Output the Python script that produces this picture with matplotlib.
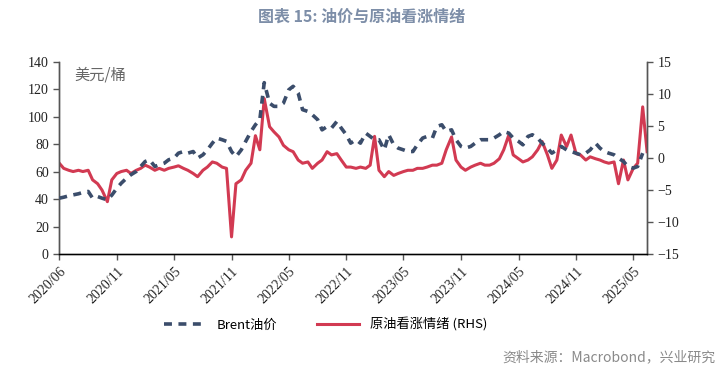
import numpy as np
import pandas as pd
import matplotlib
matplotlib.use("Agg")
import matplotlib.pyplot as plt

# data (semi-monthly readings)
dates = pd.date_range("2020-06-01", periods=124, freq="SMS")

brent = [40.8, 41.5, 42.5, 43.2, 44.0, 45.0, 45.7, 40.8, 42.0, 40.8,
         39.6, 43.0, 48.0, 51.7, 55.4, 57.9, 60.3, 63.9, 67.5, 68.8,
         63.9, 65.1, 66.3, 68.8, 70.0, 73.6, 74.8, 73.6, 74.8, 70.0,
         72.4, 76.0, 80.9, 84.6, 83.4, 82.2, 74.8, 71.0, 76.0, 82.2,
         89.4, 94.3, 98.0, 125.0, 110.0, 107.7, 107.7, 110.0, 119.8, 122.3,
         117.4, 105.3, 104.0, 101.6, 98.0, 90.6, 93.0, 91.9, 96.7, 91.9,
         87.0, 80.9, 83.4, 80.9, 88.2, 85.8, 83.4, 83.4, 76.0, 87.0,
         79.7, 77.3, 76.0, 74.8, 74.8, 79.7, 84.6, 85.8, 84.6, 93.0,
         94.3, 89.4, 90.6, 83.4, 78.5, 77.3, 78.5, 80.9, 83.4, 83.4,
         83.4, 84.6, 87.0, 89.4, 88.2, 84.6, 82.2, 79.7, 85.8, 87.0,
         84.6, 80.9, 77.3, 73.6, 76.0, 78.5, 76.0, 74.8, 73.6, 72.4,
         73.6, 76.0, 80.9, 77.3, 74.8, 73.6, 72.4, 70.0, 67.5, 63.9,
         62.7, 63.9, 73.6, np.nan]

sentiment = [-0.8, -1.6, -1.9, -2.1, -1.9, -2.1, -1.9, -3.4, -4.0, -5.0,
             -6.8, -3.4, -2.4, -2.1, -1.9, -2.4, -1.9, -1.6, -1.1, -1.4,
             -1.9, -1.6, -1.9, -1.6, -1.4, -1.2, -1.6, -1.9, -2.4, -2.9,
             -1.9, -1.4, -0.6, -0.8, -1.4, -1.6, -12.3, -4.0, -3.4, -1.9,
             -0.8, 3.5, 1.3, 9.3, 4.9, 4.1, 3.3, 2.0, 1.3, 1.0,
             -0.3, -0.8, -0.6, -1.6, -0.8, -0.3, 1.0, 0.5, 0.7, -0.3,
             -1.4, -1.4, -1.6, -1.4, -1.6, -1.1, 3.4, -1.9, -2.9, -2.1,
             -2.7, -2.4, -2.1, -1.9, -1.9, -1.6, -1.6, -1.4, -1.1, -1.1,
             -0.8, 1.3, 3.3, -0.3, -1.4, -1.9, -1.4, -1.1, -0.8, -1.1,
             -1.1, -0.8, -0.1, 1.3, 3.6, 0.5, -0.1, -0.6, -0.3, 0.2,
             1.3, 2.6, 0.5, -1.6, -0.3, 3.6, 1.8, 3.6, 0.7, 0.5,
             -0.3, 0.2, -0.1, -0.3, -0.6, -0.8, -0.6, -4.0, -0.3, -3.4,
             -1.6, -0.8, 8.0, 1.0]

tick_dates = pd.date_range("2020-06-01", periods=11, freq="6MS")
tick_labels = ["2020/06", "2020/11", "2021/05", "2021/11", "2022/05", "2022/11",
               "2023/05", "2023/11", "2024/05", "2024/11", "2025/05"]

navy = "#3b4d6b"
red = "#d23a52"
serif = "Liberation Serif"
cjk = ["Noto Sans CJK SC", "DejaVu Sans"]

fig = plt.figure(figsize=(7.23, 3.76), dpi=100)
ax = fig.add_axes([0.082, 0.324, 0.813, 0.511])
ax2 = ax.twinx()

ax.plot(dates, brent, color=navy, lw=2.6, dashes=(2.2, 1.8), label="Brent油价", zorder=3)
ax2.plot(dates, sentiment, color=red, lw=2.2, label="原油看涨情绪 (RHS)", zorder=2)
ax.set_zorder(ax2.get_zorder() + 1)
ax.patch.set_visible(False)

ax.set_ylim(0, 140)
ax.set_yticks(range(0, 141, 20))
ax2.set_ylim(-15, 15)
ax2.set_yticks(range(-15, 16, 5))
ax.set_xlim(dates[0], dates[-1])
ax.set_xticks(tick_dates)
ax.set_xticklabels(tick_labels, rotation=45, ha="right", rotation_mode="anchor")

for a in (ax, ax2):
    a.spines["top"].set_visible(False)
    for s in ("left", "right", "bottom"):
        a.spines[s].set_color("#555555")
        a.spines[s].set_linewidth(1.0)
    a.tick_params(direction="out", length=4, width=1, color="#555555",
                  labelsize=10, labelcolor="#222222")
    for lab in a.get_yticklabels() + a.get_xticklabels():
        lab.set_fontfamily(serif)
ax.spines["bottom"].set_color("black")

ax.text(0.025, 0.93, "美元/桶", transform=ax.transAxes, fontsize=11,
        color="#666666", family=cjk, va="center")

fig.text(0.5, 0.955, "图表 15: 油价与原油看涨情绪", ha="center", va="center",
         fontsize=11.5, fontweight="bold", color="#7d8ea8", family=cjk)

h1, l1 = ax.get_legend_handles_labels()
h2, l2 = ax2.get_legend_handles_labels()
leg = fig.legend(h1 + h2, l1 + l2, loc="center", bbox_to_anchor=(0.45, 0.137),
                 ncol=2, frameon=False, prop={"family": cjk, "size": 9.5},
                 handlelength=3.2, columnspacing=3.0, handletextpad=0.8)

fig.text(0.99, 0.05, "资料来源：Macrobond，兴业研究", ha="right", va="center",
         fontsize=10, color="#8a8a8a", family=cjk)

fig.savefig("out.png", dpi=100)
